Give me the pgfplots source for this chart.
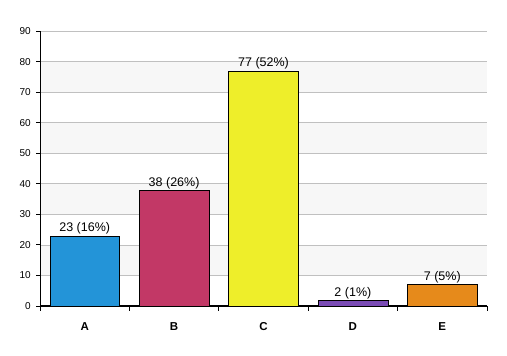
\documentclass[border=0pt]{standalone}
\usepackage{pgfplots}
\pgfplotsset{compat=1.18}
\usepackage{fontspec}
\setmainfont{Liberation Sans}
\definecolor{cA}{HTML}{2394D8}
\definecolor{cB}{HTML}{C23866}
\definecolor{cC}{HTML}{EEEE2A}
\definecolor{cD}{HTML}{7A4BB5}
\definecolor{cE}{HTML}{E68A1B}
\definecolor{band}{HTML}{F7F7F7}
\definecolor{gridc}{HTML}{C0C0C0}
\begin{document}
\begin{tikzpicture}
\begin{axis}[
  at={(0pt,0pt)}, anchor=south west,
  scale only axis, width=447pt, height=275pt,
  set layers,
  xmin=-0.5, xmax=4.5, ymin=0, ymax=90,
  axis lines*=left,
  axis line style={black},
  x axis line style={line width=1.6pt},
  ytick={0,10,...,90},
  xtick={0,1,2,3,4},
  xticklabels={A,B,C,D,E},
  major x tick style={draw=none},
  minor xtick={-0.5,0.5,...,4.5},
  minor x tick style={black, line width=0.8pt},
  minor tick length=5pt,
  tick align=outside,
  major tick length=4pt,
  y tick style={black, line width=0.8pt},
  ymajorgrids, grid style={gridc, line width=0.7pt},
  yticklabel style={font=\fontsize{10}{11}\selectfont, inner sep=1pt, xshift=-4pt},
  xticklabel style={font=\fontsize{11.5}{12}\selectfont\bfseries, yshift=-9pt},
  /pgf/number format/assume math mode=true,
  clip=false,
  mybar/.style={ybar, bar width=0.78, bar shift=0pt, draw=black,
    nodes near coords style={font=\fontsize{12.5}{13}\selectfont, inner sep=0pt, yshift=1pt, anchor=south}},
]
\addplot[draw=none, fill=band, on layer=axis background, forget plot] coordinates {(-0.5,10) (4.5,10) (4.5,20) (-0.5,20)} -- cycle;
\addplot[draw=none, fill=band, on layer=axis background, forget plot] coordinates {(-0.5,30) (4.5,30) (4.5,40) (-0.5,40)} -- cycle;
\addplot[draw=none, fill=band, on layer=axis background, forget plot] coordinates {(-0.5,50) (4.5,50) (4.5,60) (-0.5,60)} -- cycle;
\addplot[draw=none, fill=band, on layer=axis background, forget plot] coordinates {(-0.5,70) (4.5,70) (4.5,80) (-0.5,80)} -- cycle;
\addplot[mybar, fill=cA, nodes near coords={23 (16\%)}] coordinates {(0,23)};
\addplot[mybar, fill=cB, nodes near coords={38 (26\%)}] coordinates {(1,38)};
\addplot[mybar, fill=cC, nodes near coords={77 (52\%)}] coordinates {(2,77)};
\addplot[mybar, fill=cD, nodes near coords={2 (1\%)}] coordinates {(3,2)};
\addplot[mybar, fill=cE, nodes near coords={7 (5\%)}] coordinates {(4,7)};
\end{axis}
\pgfresetboundingbox
\path[use as bounding box] (-40pt,-50pt) rectangle (467pt,306pt);
\end{tikzpicture}
\end{document}
